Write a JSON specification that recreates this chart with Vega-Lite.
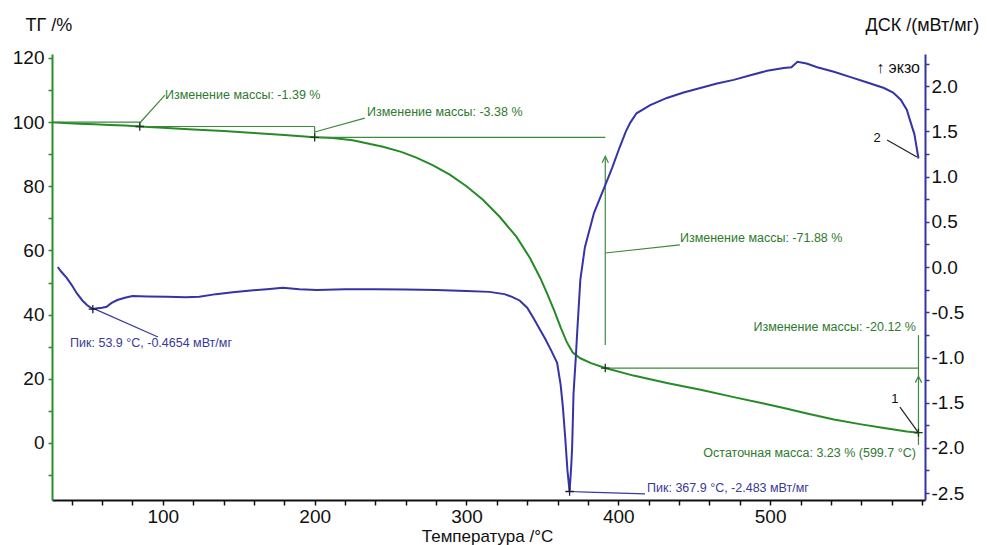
{
  "$schema": "https://vega.github.io/schema/vega-lite/v6.json",
  "width": 873,
  "height": 446,
  "autosize": {"type": "none"},
  "padding": {"left": 52, "top": 54, "right": 62, "bottom": 45},
  "background": "white",
  "config": {"view": {"stroke": null}, "font": "Liberation Sans"},
  "datasets": {
    "tg": [
      {"x": 27, "y": 99.9}, {"x": 35, "y": 99.7}, {"x": 45, "y": 99.5}, {"x": 55, "y": 99.3},
      {"x": 65, "y": 99.1}, {"x": 75, "y": 98.9}, {"x": 84.8, "y": 98.61}, {"x": 100, "y": 98.2},
      {"x": 120, "y": 97.7}, {"x": 140, "y": 97.2}, {"x": 160, "y": 96.6}, {"x": 180, "y": 96.0},
      {"x": 200, "y": 95.23}, {"x": 212, "y": 95.0}, {"x": 225, "y": 94.3}, {"x": 245, "y": 92.3},
      {"x": 257, "y": 90.7}, {"x": 267, "y": 88.9}, {"x": 278, "y": 86.5}, {"x": 289, "y": 83.6},
      {"x": 300, "y": 80.0}, {"x": 311, "y": 75.7}, {"x": 322, "y": 70.4}, {"x": 333, "y": 64.2},
      {"x": 342, "y": 57.5}, {"x": 348.5, "y": 51.5}, {"x": 353, "y": 46.7}, {"x": 358, "y": 41.0},
      {"x": 362, "y": 36.0}, {"x": 366, "y": 31.5}, {"x": 370, "y": 28.2}, {"x": 375, "y": 26.4},
      {"x": 382, "y": 24.9}, {"x": 391.4, "y": 23.35}, {"x": 410, "y": 21.0}, {"x": 432, "y": 18.7},
      {"x": 455, "y": 16.5}, {"x": 476, "y": 14.3}, {"x": 495, "y": 12.4}, {"x": 509, "y": 10.9},
      {"x": 525, "y": 9.1}, {"x": 542, "y": 7.3}, {"x": 560, "y": 5.8}, {"x": 575, "y": 4.7},
      {"x": 590, "y": 3.6}, {"x": 597.7, "y": 3.23}
    ],
    "dsc": [
      {"x": 30.8, "y": 0.0}, {"x": 33, "y": -0.05}, {"x": 36.7, "y": -0.12}, {"x": 40, "y": -0.2},
      {"x": 43.3, "y": -0.29}, {"x": 47, "y": -0.37}, {"x": 50, "y": -0.42}, {"x": 53.9, "y": -0.4654},
      {"x": 57, "y": -0.455}, {"x": 60, "y": -0.45}, {"x": 63, "y": -0.44}, {"x": 66, "y": -0.4},
      {"x": 70, "y": -0.365}, {"x": 75, "y": -0.34}, {"x": 80, "y": -0.32}, {"x": 90, "y": -0.325},
      {"x": 102.6, "y": -0.33}, {"x": 115, "y": -0.335}, {"x": 124, "y": -0.33}, {"x": 135, "y": -0.3},
      {"x": 146, "y": -0.28}, {"x": 158, "y": -0.26}, {"x": 168.5, "y": -0.245}, {"x": 179, "y": -0.23},
      {"x": 190, "y": -0.245}, {"x": 201.5, "y": -0.255}, {"x": 220, "y": -0.245}, {"x": 240, "y": -0.245},
      {"x": 260, "y": -0.25}, {"x": 280, "y": -0.255}, {"x": 300, "y": -0.265}, {"x": 315, "y": -0.275},
      {"x": 325, "y": -0.3}, {"x": 330, "y": -0.33}, {"x": 335, "y": -0.37}, {"x": 340, "y": -0.45},
      {"x": 344, "y": -0.56}, {"x": 348, "y": -0.68}, {"x": 352, "y": -0.8}, {"x": 356, "y": -0.93},
      {"x": 359.7, "y": -1.06}, {"x": 362, "y": -1.3}, {"x": 363.5, "y": -1.55}, {"x": 365, "y": -1.88},
      {"x": 366.5, "y": -2.25}, {"x": 367.9, "y": -2.483}, {"x": 369, "y": -2.2}, {"x": 369.6, "y": -1.99},
      {"x": 370.5, "y": -1.4}, {"x": 372, "y": -1.0}, {"x": 373, "y": -0.7}, {"x": 375, "y": -0.14},
      {"x": 378, "y": 0.22}, {"x": 384, "y": 0.6}, {"x": 392, "y": 0.93}, {"x": 396, "y": 1.1},
      {"x": 401, "y": 1.33}, {"x": 405, "y": 1.5}, {"x": 408, "y": 1.6}, {"x": 412, "y": 1.7},
      {"x": 421, "y": 1.79}, {"x": 432, "y": 1.87}, {"x": 443, "y": 1.93}, {"x": 454, "y": 1.98},
      {"x": 465, "y": 2.03}, {"x": 476, "y": 2.07}, {"x": 487, "y": 2.12}, {"x": 498, "y": 2.17},
      {"x": 509, "y": 2.2}, {"x": 514, "y": 2.21}, {"x": 518, "y": 2.27}, {"x": 524, "y": 2.25},
      {"x": 531, "y": 2.21}, {"x": 542, "y": 2.16}, {"x": 553, "y": 2.1}, {"x": 564, "y": 2.04},
      {"x": 575, "y": 1.98}, {"x": 581, "y": 1.93}, {"x": 586, "y": 1.85}, {"x": 590, "y": 1.74},
      {"x": 592, "y": 1.63}, {"x": 595, "y": 1.47}, {"x": 597.7, "y": 1.2}
    ],
    "tgRules": [
      {"g": "green", "x": 30.3, "x2": 84.8, "y": 100, "y2": 100},
      {"g": "green", "x": 84.8, "x2": 84.8, "y": 100, "y2": 98.61},
      {"g": "green", "x": 84.8, "x2": 200, "y": 98.61, "y2": 98.61},
      {"g": "green", "x": 200, "x2": 200, "y": 98.61, "y2": 95.23},
      {"g": "green", "x": 200, "x2": 391.4, "y": 95.23, "y2": 95.23},
      {"g": "green", "x": 391.4, "x2": 391.4, "y": 30.5, "y2": 89.3},
      {"g": "green", "x": 391.4, "x2": 597.7, "y": 23.35, "y2": 23.35},
      {"g": "green", "x": 597.7, "x2": 597.7, "y": -0.6, "y2": 33.6},
      {"g": "green", "x": 84.8, "x2": 101.4, "y": 99.7, "y2": 108.4},
      {"g": "green", "x": 200, "x2": 233, "y": 96.9, "y2": 101.2},
      {"g": "green", "x": 391.4, "x2": 440.6, "y": 59.2, "y2": 61.7},
      {"g": "black", "x": 585.5, "x2": 597.4, "y": 11.2, "y2": 3.4}
    ],
    "tgArrows": [
      {"x": 391.4, "y": 88.3},
      {"x": 597.7, "y": 19.8}
    ],
    "tgMarks": [
      {"x": 84.8, "y": 98.61}, {"x": 200, "y": 95.23}, {"x": 391.4, "y": 23.35}, {"x": 597.7, "y": 3.23}
    ],
    "tgText": [
      {"g": "left", "x": 101.4, "y": 108.4, "label": "Изменение массы: -1.39 %"},
      {"g": "left", "x": 234.5, "y": 103.1, "label": "Изменение массы: -3.38 %"},
      {"g": "left", "x": 440.6, "y": 63.9, "label": "Изменение массы: -71.88 %"},
      {"g": "right", "x": 596, "y": 36.1, "label": "Изменение массы: -20.12 %"},
      {"g": "right", "x": 596, "y": -3.1, "label": "Остаточная масса: 3.23 % (599.7 °C)"},
      {"g": "num", "x": 582.2, "y": 13.6, "label": "1"}
    ],
    "dscRules": [
      {"g": "blue", "x": 55.3, "x2": 96.8, "y": -0.4654, "y2": -0.774},
      {"g": "blue", "x": 367.9, "x2": 379.4, "y": -2.483, "y2": -2.49},
      {"g": "blue", "x": 379.4, "x2": 417.6, "y": -2.49, "y2": -2.51},
      {"g": "black", "x": 577, "x2": 596.7, "y": 1.405, "y2": 1.217}
    ],
    "dscMarks": [
      {"x": 53.9, "y": -0.4654}, {"x": 367.9, "y": -2.483}
    ],
    "dscText": [
      {"g": "blue", "x": 38.9, "y": -0.84, "label": "Пик: 53.9 °C, -0.4654 мВт/мг"},
      {"g": "blue", "x": 418.9, "y": -2.445, "label": "Пик: 367.9 °C, -2.483 мВт/мг"},
      {"g": "num", "x": 570.4, "y": 1.43, "label": "2"},
      {"g": "exo", "x": 598.7, "y": 2.2, "label": "↑ экзо"}
    ]
  },
  "encoding": {
    "x": {
      "field": "x", "type": "quantitative",
      "scale": {"domain": [27, 602], "nice": false, "zero": false},
      "axis": {
        "title": "Температура /°C",
        "values": [40, 60, 80, 100, 120, 140, 160, 180, 200, 220, 240, 260, 280, 300, 320, 340, 360, 380, 400, 420, 440, 460, 480, 500, 520, 540, 560, 580, 600],
        "labelExpr": "datum.value % 100 == 0 && datum.value < 600 ? format(datum.value, 'd') : ''",
        "grid": false, "domainColor": "#111111", "domainWidth": 2,
        "tickColor": "#111111", "tickSize": 5, "tickWidth": 1.5,
        "labelFontSize": 19, "labelColor": "#111111", "labelPadding": 2, "labelFlush": false,
        "titleFontSize": 17, "titleFontWeight": "normal", "titleColor": "#111111",
        "titleAlign": "center", "titleBaseline": "alphabetic", "titleX": 435, "titleY": 41
      }
    }
  },
  "layer": [
    {
      "encoding": {
        "y": {
          "field": "y", "type": "quantitative",
          "scale": {"domain": [-17.76, 121.2], "nice": false, "zero": false},
          "axis": {
            "orient": "left",
            "title": "ТГ /%",
            "values": [-10, 0, 10, 20, 30, 40, 50, 60, 70, 80, 90, 100, 110, 120],
            "labelExpr": "datum.value % 20 == 0 ? format(datum.value, 'd') : ''",
            "grid": false, "domainColor": "#2a8c2a", "domainWidth": 2,
            "tickColor": "#2a8c2a", "tickSize": 4, "tickWidth": 1.5,
            "labelFontSize": 19, "labelColor": "#111111", "labelPadding": 4,
            "titleFontSize": 18, "titleFontWeight": "normal", "titleColor": "#111111",
            "titleAngle": 0, "titleAlign": "left", "titleBaseline": "alphabetic",
            "titleX": -27, "titleY": -24
          }
        }
      },
      "layer": [
        {
          "data": {"name": "tg"},
          "mark": {"type": "line", "color": "#268a26", "strokeWidth": 2}
        },
        {
          "data": {"name": "tgRules"},
          "transform": [{"filter": "datum.g == 'green'"}],
          "mark": {"type": "rule", "color": "#3c8a3c", "strokeWidth": 1.2},
          "encoding": {"x2": {"field": "x2"}, "y2": {"field": "y2"}}
        },
        {
          "data": {"name": "tgRules"},
          "transform": [{"filter": "datum.g == 'black'"}],
          "mark": {"type": "rule", "color": "#222222", "strokeWidth": 1.2},
          "encoding": {"x2": {"field": "x2"}, "y2": {"field": "y2"}}
        },
        {
          "data": {"name": "tgArrows"},
          "mark": {"type": "point", "shape": "M-1,1L0,-1L1,1", "filled": false, "stroke": "#3c8a3c", "strokeWidth": 1.2, "size": 40, "opacity": 1}
        },
        {
          "data": {"name": "tgMarks"},
          "mark": {"type": "point", "shape": "M-1,0L1,0M0,-1L0,1", "filled": false, "stroke": "#1a3a1a", "strokeWidth": 1.3, "size": 70, "opacity": 1}
        },
        {
          "data": {"name": "tgText"},
          "transform": [{"filter": "datum.g == 'left'"}],
          "mark": {"type": "text", "align": "left", "baseline": "middle", "fontSize": 12.5, "color": "#2e7a2e"},
          "encoding": {"text": {"field": "label"}}
        },
        {
          "data": {"name": "tgText"},
          "transform": [{"filter": "datum.g == 'right'"}],
          "mark": {"type": "text", "align": "right", "baseline": "middle", "fontSize": 12.5, "color": "#2e7a2e"},
          "encoding": {"text": {"field": "label"}}
        },
        {
          "data": {"name": "tgText"},
          "transform": [{"filter": "datum.g == 'num'"}],
          "mark": {"type": "text", "align": "center", "baseline": "middle", "fontSize": 13, "color": "#111111"},
          "encoding": {"text": {"field": "label"}}
        }
      ]
    },
    {
      "encoding": {
        "y": {
          "field": "y", "type": "quantitative",
          "scale": {"domain": [-2.577, 2.356], "nice": false, "zero": false},
          "axis": {
            "orient": "right",
            "title": "ДСК /(мВт/мг)",
            "values": [-2.5, -2.25, -2, -1.75, -1.5, -1.25, -1, -0.75, -0.5, -0.25, 0, 0.25, 0.5, 0.75, 1, 1.25, 1.5, 1.75, 2, 2.25],
            "labelExpr": "datum.value % 0.5 == 0 ? (datum.value < 0 ? '-' : '') + format(abs(datum.value), '.1f') : ''",
            "grid": false, "domainColor": "#3434a6", "domainWidth": 2,
            "tickColor": "#3434a6", "tickSize": 4, "tickWidth": 1.5,
            "labelFontSize": 19, "labelColor": "#111111", "labelPadding": 2,
            "titleFontSize": 18, "titleFontWeight": "normal", "titleColor": "#111111",
            "titleAngle": 0, "titleAlign": "left", "titleBaseline": "alphabetic",
            "titleX": -60, "titleY": -24
          }
        }
      },
      "layer": [
        {
          "data": {"name": "dsc"},
          "mark": {"type": "line", "color": "#3434a6", "strokeWidth": 2}
        },
        {
          "data": {"name": "dscRules"},
          "transform": [{"filter": "datum.g == 'blue'"}],
          "mark": {"type": "rule", "color": "#3a3a9a", "strokeWidth": 1.2},
          "encoding": {"x2": {"field": "x2"}, "y2": {"field": "y2"}}
        },
        {
          "data": {"name": "dscRules"},
          "transform": [{"filter": "datum.g == 'black'"}],
          "mark": {"type": "rule", "color": "#222222", "strokeWidth": 1.2},
          "encoding": {"x2": {"field": "x2"}, "y2": {"field": "y2"}}
        },
        {
          "data": {"name": "dscMarks"},
          "mark": {"type": "point", "shape": "M-1,0L1,0M0,-1L0,1", "filled": false, "stroke": "#1a1a40", "strokeWidth": 1.3, "size": 70, "opacity": 1}
        },
        {
          "data": {"name": "dscText"},
          "transform": [{"filter": "datum.g == 'blue'"}],
          "mark": {"type": "text", "align": "left", "baseline": "middle", "fontSize": 12.5, "color": "#3a3a96"},
          "encoding": {"text": {"field": "label"}}
        },
        {
          "data": {"name": "dscText"},
          "transform": [{"filter": "datum.g == 'num'"}],
          "mark": {"type": "text", "align": "center", "baseline": "middle", "fontSize": 13, "color": "#111111"},
          "encoding": {"text": {"field": "label"}}
        },
        {
          "data": {"name": "dscText"},
          "transform": [{"filter": "datum.g == 'exo'"}],
          "mark": {"type": "text", "align": "right", "baseline": "middle", "fontSize": 16, "color": "#111111"},
          "encoding": {"text": {"field": "label"}}
        }
      ]
    }
  ],
  "resolve": {"scale": {"y": "independent"}, "axis": {"y": "independent"}}
}
